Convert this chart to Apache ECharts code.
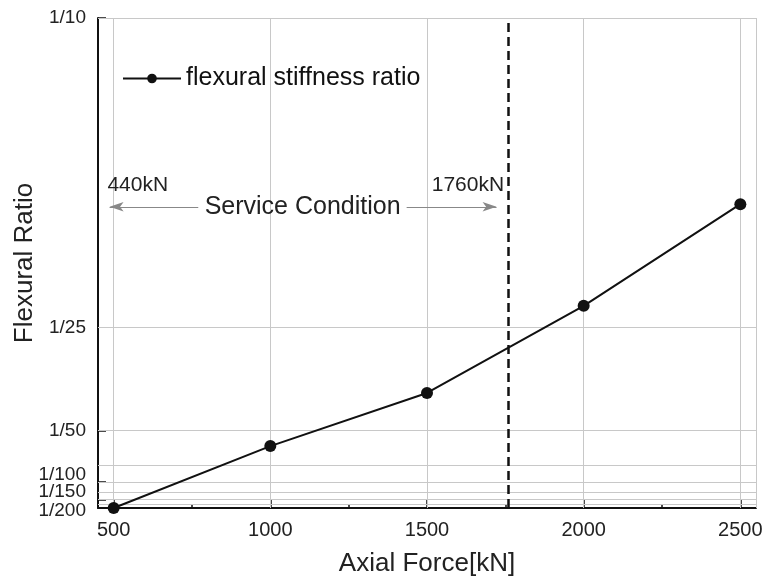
<!DOCTYPE html>
<html>
<head>
<meta charset="utf-8">
<script src="https://cdn.jsdelivr.net/npm/echarts@6/dist/echarts.min.js"></script>
<style>
  html, body { margin: 0; padding: 0; background: #fff; }
  #chart { width: 762px; height: 583px; }
</style>
</head>
<body>
<div id="chart"></div>
<script>
// data
const forces = [500, 1000, 1500, 2000, 2500];
const ratios = [0.005, 0.0170, 0.0273, 0.0442, 0.0639];

const xLabelValues = [500, 1000, 1500, 2000, 2500];
const xMinorTicks = [750, 1250, 1750, 2250];
const xGridValues = [500, 1000, 1500, 2000, 2500, 2550];

const yLabelValues = [1 / 200, 1 / 150, 1 / 100, 1 / 50, 1 / 25, 1 / 10];
const yLabelNames = ["1/200", "1/150", "1/100", "1/50", "1/25", "1/10"];
const yTickValues = [1 / 150, 1 / 100, 1 / 50, 1 / 10];
const yGridValues = [1 / 175, 1 / 150, 1 / 125, 1 / 100, 1 / 75, 1 / 50, 1 / 25, 1 / 10];

const serviceLimit = 1760;
const arrowY = 0.0634;
const leftArrow = [770, 487];
const rightArrow = [1435, 1722];
const textY = 0.0676;

const font = "Liberation Sans, Arial, sans-serif";
const chart = echarts.init(document.getElementById("chart"));

// shift crowded labels the way the original does
const labelStyle = {
  "1/200": "d",
  "1/150": "u",
  "1/100": "u",
};

chart.setOption({
  animation: false,
  grid: { left: 98, right: 6, top: 18, bottom: 75, outerBoundsMode: "none", containLabel: false },
  legend: {
    data: ["flexural stiffness ratio"],
    left: 117,
    top: 61,
    itemWidth: 58,
    itemHeight: 12,
    itemGap: 6,
    textStyle: { fontFamily: font, fontSize: 25, color: "#111" },
  },
  xAxis: [
    {
      type: "value",
      min: 450,
      max: 2550,
      name: "Axial Force[kN]",
      nameLocation: "middle",
      nameGap: 43,
      nameMoveOverlap: false,
      nameTextStyle: { fontFamily: font, fontSize: 26, color: "#222" },
      axisLine: { lineStyle: { color: "#111", width: 2 } },
      axisTick: { inside: true, length: 8, customValues: xLabelValues, lineStyle: { color: "#111", width: 1.5 } },
      axisLabel: {
        customValues: xLabelValues,
        margin: 12,
        fontFamily: font,
        fontSize: 20,
        color: "#222",
        formatter: function (v) {
          return String(v);
        },
      },
      splitLine: { show: false },
    },
    {
      type: "value",
      min: 450,
      max: 2550,
      position: "bottom",
      axisLine: { show: false },
      axisTick: { inside: true, length: 4, customValues: xMinorTicks, lineStyle: { color: "#111", width: 1.5 } },
      axisLabel: { show: false },
      splitLine: { show: false },
    },
  ],
  yAxis: {
    type: "value",
    min: 0.005,
    max: 0.1,
    name: "Flexural Ratio",
    nameLocation: "middle",
    nameGap: 60,
    nameMoveOverlap: false,
    nameTextStyle: { fontFamily: font, fontSize: 26, color: "#222" },
    axisLine: { show: true, lineStyle: { color: "#111", width: 2 } },
    axisTick: { show: true, inside: true, length: 8, customValues: yTickValues, lineStyle: { color: "#111", width: 1.5 } },
    axisLabel: {
      customValues: yLabelValues,
      margin: 12,
      fontFamily: font,
      fontSize: 19,
      color: "#222",
      formatter: function (v) {
        let i = yLabelValues.findIndex((t) => Math.abs(t - v) < 1e-6);
        let name = i >= 0 ? yLabelNames[i] : "";
        let s = labelStyle[name];
        return s ? "{" + s + "|" + name + "}" : name;
      },
      rich: {
        u: { fontFamily: font, fontSize: 19, color: "#222", padding: [0, 0, 15, 0] },
        d: { fontFamily: font, fontSize: 19, color: "#222", padding: [6, 0, 0, 0] },
      },
    },
    splitLine: { show: false },
  },
  series: [
    {
      name: "grid",
      type: "line",
      data: [],
      z: 1,
      silent: true,
      markLine: {
        silent: true,
        symbol: "none",
        precision: 6,
        animation: false,
        label: { show: false },
        lineStyle: { color: "#c8c8c8", width: 1, type: "solid" },
        data: xGridValues
          .map((v) => [{ coord: [v, 0.005] }, { coord: [v, 0.1] }])
          .concat(yGridValues.map((v) => [{ coord: [450, v] }, { coord: [2550, v] }])),
      },
    },
    {
      name: "flexural stiffness ratio",
      type: "line",
      z: 5,
      data: forces.map((f, i) => [f, ratios[i]]),
      symbol: "circle",
      symbolSize: 12,
      lineStyle: { color: "#111", width: 2 },
      itemStyle: { color: "#111" },
      markLine: {
        silent: true,
        animation: false,
        precision: 6,
        data: [
          [
            { coord: [serviceLimit, 0.005], symbol: "none", lineStyle: { color: "#111", width: 2.5, type: [9, 5] } },
            { coord: [serviceLimit, 0.1], symbol: "none" },
          ],
          [
            { coord: [leftArrow[0], arrowY], symbol: "none", lineStyle: { color: "#888", width: 1, type: "solid" } },
            { coord: [leftArrow[1], arrowY], symbol: "arrow", symbolSize: [7, 14] },
          ],
          [
            { coord: [rightArrow[0], arrowY], symbol: "none", lineStyle: { color: "#888", width: 1, type: "solid" } },
            { coord: [rightArrow[1], arrowY], symbol: "arrow", symbolSize: [7, 14] },
          ],
        ],
        label: { show: false },
        itemStyle: { color: "#222" },
      },
      markPoint: {
        silent: true,
        animation: false,
        symbol: "circle",
        symbolSize: 0,
        data: [
          {
            coord: [1103, arrowY],
            label: { show: true, formatter: "Service Condition", fontFamily: font, fontSize: 25, color: "#222", align: "center", verticalAlign: "middle" },
          },
          {
            coord: [480, textY],
            label: { show: true, formatter: "440kN", fontFamily: font, fontSize: 21, color: "#222", align: "left", verticalAlign: "middle" },
          },
          {
            coord: [1746, textY],
            label: { show: true, formatter: "1760kN", fontFamily: font, fontSize: 21, color: "#222", align: "right", verticalAlign: "middle" },
          },
        ],
      },
    },
  ],
});
</script>
</body>
</html>
